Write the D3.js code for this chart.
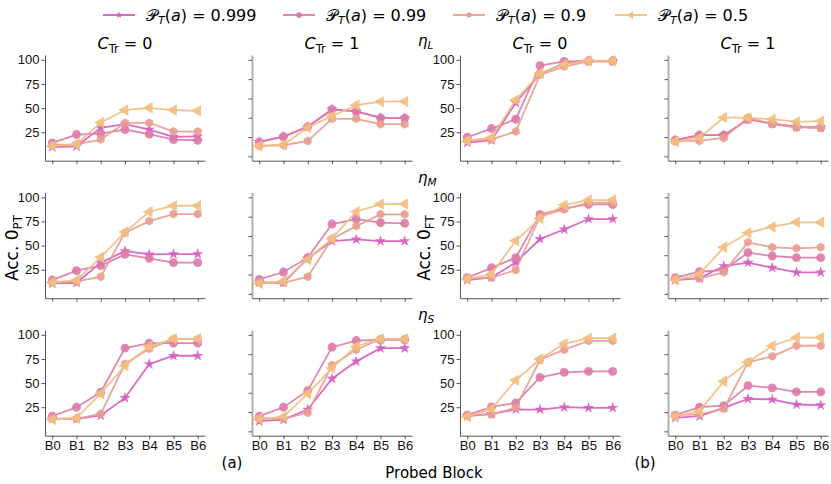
<!DOCTYPE html>
<html>
<head>
<meta charset="utf-8">
<script src="https://cdn.jsdelivr.net/npm/d3@7"></script>
<style>
  body { margin: 0; background: #fff; }
  svg { font-family: "DejaVu Sans", sans-serif; }
</style>
</head>
<body>
<svg id="chart" width="831" height="484"></svg>
<script>
var blocks = ["B0", "B1", "B2", "B3", "B4", "B5", "B6"];
var probLabels = ["0.999", "0.99", "0.9", "0.5"];
var seriesColors = ["#d65cbf", "#dc7aa7", "#e89c90", "#f2be7f"];
var leftTicks = [25, 50, 75, 100];
var rightTicks = [0, 20, 40, 60, 80, 100];

// each panel: [p=0.999, p=0.99, p=0.9, p=0.5]
var etaL_PT_C0 = [
  [9.7, 10.4, 29.5, 33.3, 27.8, 20.1, 20.8],
  [13.9, 22.6, 23.6, 27.8, 23.0, 17.4, 16.7],
  [12.0, 12.5, 17.4, 34.7, 34.7, 25.7, 25.7],
  [10.8, 12.5, 35.0, 47.9, 50.3, 48.0, 47.2]
];
var etaL_PT_C1 = [
  [15.0, 20.5, 30.6, 48.6, 46.5, 39.9, 39.6],
  [15.0, 20.5, 30.6, 48.6, 46.5, 39.9, 39.6],
  [10.8, 11.5, 16.0, 38.9, 38.9, 33.3, 33.3],
  [10.8, 12.0, 29.9, 41.7, 53.1, 56.6, 56.9]
];
var etaL_FT_C0 = [
  [14.0, 16.7, 55.6, 85.4, 96.5, 98.3, 98.3],
  [19.8, 28.8, 38.5, 94.0, 98.3, 99.0, 99.0],
  [16.7, 17.7, 25.7, 84.4, 93.0, 98.3, 98.3],
  [16.0, 19.4, 58.3, 86.0, 95.5, 99.0, 99.0]
];
var etaL_FT_C1 = [
  [16.7, 21.9, 21.9, 38.2, 34.0, 30.6, 29.9],
  [16.7, 21.9, 21.9, 38.2, 34.0, 30.6, 29.9],
  [16.0, 16.0, 19.1, 39.9, 33.3, 29.9, 29.9],
  [15.0, 19.4, 40.3, 39.9, 38.5, 35.8, 36.5]
];
var etaM_PT_C0 = [
  [10.8, 11.5, 32.3, 44.4, 40.9, 41.2, 41.2],
  [14.3, 24.0, 29.2, 40.9, 36.8, 32.3, 32.3],
  [12.6, 12.6, 17.8, 63.3, 75.4, 82.7, 82.7],
  [11.5, 14.2, 37.8, 64.0, 85.1, 91.3, 91.3]
];
var etaM_PT_C1 = [
  [11.9, 11.5, 36.8, 54.7, 56.4, 54.7, 54.7],
  [15.0, 22.6, 37.5, 72.3, 77.5, 73.7, 73.0],
  [11.5, 11.5, 17.8, 56.8, 70.2, 82.4, 82.4],
  [10.8, 13.2, 35.7, 57.5, 85.1, 93.0, 93.0]
];
var etaM_FT_C0 = [
  [14.3, 17.0, 32.6, 56.8, 66.8, 77.5, 77.5],
  [16.7, 27.0, 37.5, 82.3, 88.5, 92.6, 92.6],
  [16.0, 16.7, 24.7, 79.9, 87.5, 94.4, 94.4],
  [15.3, 20.5, 55.0, 78.2, 92.0, 97.2, 97.2]
];
var etaM_FT_C1 = [
  [14.3, 16.0, 28.8, 32.3, 27.1, 22.3, 22.3],
  [16.7, 22.9, 24.7, 42.7, 39.2, 37.5, 37.5],
  [16.0, 16.0, 22.3, 53.4, 48.2, 47.2, 48.2],
  [14.3, 20.5, 48.2, 63.3, 69.6, 74.1, 74.1]
];
var etaS_PT_C0 = [
  [13.0, 13.0, 16.5, 34.6, 69.7, 78.3, 78.3],
  [15.7, 25.0, 40.5, 86.2, 91.4, 91.4, 91.4],
  [13.3, 13.0, 18.1, 70.1, 85.5, 95.8, 95.8],
  [12.3, 14.0, 39.1, 68.0, 88.0, 95.8, 95.8]
];
var etaS_PT_C1 = [
  [10.5, 12.2, 22.6, 54.6, 72.5, 86.2, 86.2],
  [15.7, 25.0, 42.2, 87.2, 94.1, 94.8, 94.8],
  [13.3, 13.3, 19.2, 68.4, 84.6, 95.8, 95.8],
  [13.0, 15.1, 39.1, 65.6, 88.0, 95.8, 95.8]
];
var etaS_FT_C0 = [
  [15.7, 18.1, 22.6, 22.6, 25.0, 24.4, 24.4],
  [16.8, 25.4, 29.5, 55.9, 61.1, 62.1, 62.1],
  [16.8, 17.5, 24.4, 74.2, 84.6, 93.8, 93.8],
  [15.1, 23.3, 52.9, 74.9, 90.7, 96.5, 96.5]
];
var etaS_FT_C1 = [
  [14.0, 15.7, 24.4, 33.7, 33.0, 27.8, 27.1],
  [16.8, 25.0, 26.7, 47.4, 45.0, 40.9, 40.9],
  [16.8, 17.5, 23.3, 71.5, 77.7, 88.7, 88.7],
  [15.7, 20.9, 51.8, 71.5, 88.7, 97.2, 97.2]
];

var panelRows = [
  [etaL_PT_C0, etaL_PT_C1, etaL_FT_C0, etaL_FT_C1],
  [etaM_PT_C0, etaM_PT_C1, etaM_FT_C0, etaM_FT_C1],
  [etaS_PT_C0, etaS_PT_C1, etaS_FT_C0, etaS_FT_C1]
];

var colLeft = [45, 252, 460, 668];
var rowTop = [55, 192.5, 330];
var panelWidth = 160;
var panelHeight = 105.7;

// hexagon marker (matplotlib 'h')
var symbolHexagon = {
  draw: function(context, size) {
    var r = Math.sqrt(size / (1.5 * Math.sqrt(3)));
    for (var k = 0; k < 6; k++) {
      var a = k * Math.PI / 3 - Math.PI / 2;
      if (k === 0) context.moveTo(r * Math.cos(a), r * Math.sin(a));
      else context.lineTo(r * Math.cos(a), r * Math.sin(a));
    }
    context.closePath();
  }
};
var markerTypes = [d3.symbolStar, d3.symbolCircle, symbolHexagon, d3.symbolTriangle];
var markerSizes = [40, 62, 52, 58];
var markerRotate = [0, 0, 0, -90];

var svg = d3.select("#chart");

var xScale = d3.scaleLinear().domain([-0.3, 6.3]).range([0, panelWidth]);
var yScale = d3.scaleLinear().domain([-4.5, 105]).range([panelHeight, 0]);

var line = d3.line()
  .x(function(value, index) { return xScale(index); })
  .y(function(value) { return yScale(value); });

panelRows.forEach(function(row, r) {
  row.forEach(function(panel, c) {
    var g = svg.append("g")
      .attr("transform", "translate(" + colLeft[c] + "," + rowTop[r] + ")");
    var isLeft = (c % 2 === 0);

    //Add y axis
    var yAxis = d3.axisLeft(yScale).tickSizeInner(3.5).tickSizeOuter(0).tickPadding(2);
    if (isLeft) yAxis.tickValues(leftTicks);
    else yAxis.tickValues(rightTicks).tickFormat("");
    var yg = g.append("g").call(yAxis);
    yg.select(".domain").attr("stroke", isLeft ? "#555" : "#aaa").attr("stroke-width", isLeft ? 1 : 1.8);
    yg.selectAll(".tick line").attr("stroke", "#555");
    yg.selectAll("text").style("font-size", "13px").attr("fill", "#111");

    //Add x axis
    var xAxis = d3.axisBottom(xScale).tickValues(d3.range(blocks.length))
      .tickSizeInner(3.5).tickSizeOuter(0).tickPadding(2)
      .tickFormat(function(i) { return r === 2 ? blocks[i] : ""; });
    var xg = g.append("g").attr("transform", "translate(0," + panelHeight + ")").call(xAxis);
    xg.select(".domain").attr("stroke", "#555");
    xg.selectAll(".tick line").attr("stroke", "#555");
    xg.selectAll("text").style("font-size", "13px").attr("fill", "#111");

    //Add data
    panel.forEach(function(values, s) {
      g.append("path")
        .datum(values)
        .attr("d", line)
        .attr("fill", "none")
        .attr("stroke", seriesColors[s])
        .attr("stroke-width", 1.8)
        .attr("opacity", 0.9);
      g.selectAll(".m" + s)
        .data(values)
        .enter()
        .append("path")
        .attr("class", "m" + s)
        .attr("d", d3.symbol().type(markerTypes[s]).size(markerSizes[s]))
        .attr("transform", function(value, index) {
          return "translate(" + xScale(index) + "," + yScale(value) + ") rotate(" + markerRotate[s] + ")";
        })
        .attr("fill", seriesColors[s])
        .attr("opacity", 0.9);
    });
  });
});

// panel titles
var titleCols = [0, 1, 0, 1];
titleCols.forEach(function(v, c) {
  var t = svg.append("text")
    .attr("x", colLeft[c] + panelWidth / 2)
    .attr("y", 49)
    .attr("text-anchor", "middle")
    .style("font-size", "16px");
  t.append("tspan").style("font-style", "italic").text("C");
  t.append("tspan").attr("dy", 4).style("font-size", "11.5px").text("Tr");
  t.append("tspan").attr("dy", -4).text(" = " + v);
});

// row labels
var rowLabels = ["L", "M", "S"];
var rowLabelY = [46, 183, 320];
rowLabels.forEach(function(lbl, r) {
  var t = svg.append("text")
    .attr("x", 418)
    .attr("y", rowLabelY[r])
    .style("font-size", "15px")
    .style("font-style", "italic");
  t.append("tspan").text("η");
  t.append("tspan").attr("dy", 3).style("font-size", "10.5px").text(lbl);
});

// y labels
function yLabel(x, sub) {
  var t = svg.append("text")
    .attr("transform", "translate(" + x + ",248) rotate(-90)")
    .attr("text-anchor", "middle")
    .style("font-size", "17px");
  t.append("tspan").text("Acc. 0");
  t.append("tspan").attr("dy", 4).style("font-size", "12px").text(sub);
}
yLabel(18, "PT");
yLabel(430, "FT");

// bottom labels
svg.append("text").attr("x", 232).attr("y", 468).attr("text-anchor", "middle")
  .style("font-size", "15px").text("(a)");
svg.append("text").attr("x", 645).attr("y", 468).attr("text-anchor", "middle")
  .style("font-size", "15px").text("(b)");
svg.append("text").attr("x", 434).attr("y", 478).attr("text-anchor", "middle")
  .style("font-size", "15px").text("Probed Block");

// legend
var legendLineX = [103, 283, 453, 615];
probLabels.forEach(function(p, s) {
  var lg = svg.append("g").attr("transform", "translate(" + legendLineX[s] + ",15)");
  lg.append("line").attr("x1", 0).attr("x2", 32).attr("y1", 0).attr("y2", 0)
    .attr("stroke", seriesColors[s]).attr("stroke-width", 1.8);
  lg.append("path")
    .attr("d", d3.symbol().type(markerTypes[s]).size(markerSizes[s] * 0.4))
    .attr("transform", "translate(16,0) rotate(" + markerRotate[s] + ")")
    .attr("fill", seriesColors[s]);
  var t = lg.append("text").attr("x", 43).attr("y", 6).style("font-size", "16px");
  t.append("tspan").text("𝒫");
  t.append("tspan").attr("dy", 3).style("font-size", "11px").style("font-style", "italic").text("T");
  t.append("tspan").attr("dy", -3).text("(");
  t.append("tspan").style("font-style", "italic").text("a");
  t.append("tspan").text(") = " + p);
});
</script>
</body>
</html>
